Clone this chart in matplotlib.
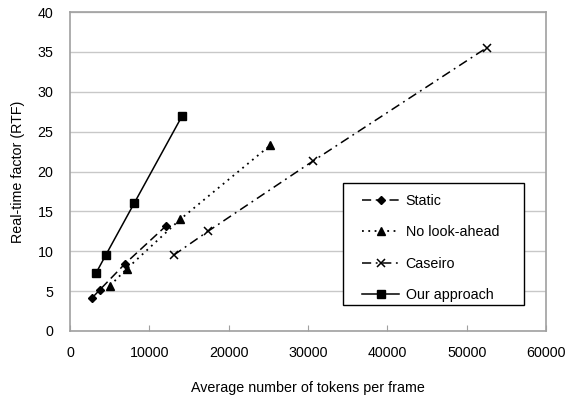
import matplotlib
matplotlib.use("Agg")
import matplotlib.pyplot as plt
from matplotlib.patches import Rectangle

plt.rcParams['font.family'] = ['Liberation Sans', 'DejaVu Sans']

static_x = [2740, 3790, 6950, 12130]
static_y = [4.1, 5.2, 8.45, 13.2]
nla_x = [5050, 7160, 13890, 25260]
nla_y = [5.7, 7.8, 14.0, 23.3]
caseiro_x = [13050, 17390, 30610, 52500]
caseiro_y = [9.5, 12.5, 21.3, 35.5]
ours_x = [3300, 4500, 8080, 14150]
ours_y = [7.3, 9.5, 16.0, 27.0]

xticks = [0, 10000, 20000, 30000, 40000, 50000, 60000]
yticks = [0, 5, 10, 15, 20, 25, 30, 35, 40]

FS = 10.3

fig = plt.figure(figsize=(5.65, 3.96), dpi=100)
ax = fig.add_axes([70/565, 1-331/396, 476/565, 319/396])

ax.plot(static_x, static_y, color='black', lw=1.1, ls=(0, (6, 3)), marker='D', ms=4.5, label='Static')
ax.plot(nla_x, nla_y, color='black', lw=1.3, ls=(0, (1, 2.5)), marker='^', ms=6, label='No look-ahead')
ax.plot(caseiro_x, caseiro_y, color='black', lw=1.1, ls=(0, (6, 3, 1.2, 3)), marker='x', ms=6, mew=1.1, label='Caseiro')
ax.plot(ours_x, ours_y, color='black', lw=1.1, ls='-', marker='s', ms=6, label='Our approach')

ax.set_xlim(0, 60000)
ax.set_ylim(0, 40)
ax.set_xticks(xticks)
ax.set_yticks(yticks)
ax.set_xticklabels([str(v) for v in xticks])
ax.set_yticklabels([str(v) for v in yticks])
ax.grid(axis='y', color='#C8C8C8', lw=1)
ax.set_axisbelow(True)
for s in ['left', 'bottom', 'right', 'top']:
    ax.spines[s].set_color('#A0A0A0')
    ax.spines[s].set_linewidth(1.2)
ax.tick_params(axis='x', direction='in', length=4, color='#A0A0A0', labelsize=FS, pad=11)
ax.tick_params(axis='y', length=0, labelsize=FS, pad=12)

ax.set_xlabel('Average number of tokens per frame', fontsize=FS, labelpad=15)
ax.set_ylabel('Real-time factor (RTF)', fontsize=FS, labelpad=9)

# legend frame
x0, x1 = (343-70)/476, (524-70)/476
y0, y1 = (331-305)/319, (331-183)/319
ax.add_patch(Rectangle((x0, y0), x1-x0, y1-y0, transform=ax.transAxes,
                       facecolor='white', edgecolor='black', lw=1.0, zorder=5))

leg = ax.legend(loc='upper left', bbox_to_anchor=((362-70)/476, (331-194)/319), fontsize=FS,
                frameon=False, handlelength=2.6, handletextpad=0.45,
                labelspacing=1.22, borderpad=0, borderaxespad=0)
leg.set_zorder(6)

fig.savefig('out.png', dpi=100)
